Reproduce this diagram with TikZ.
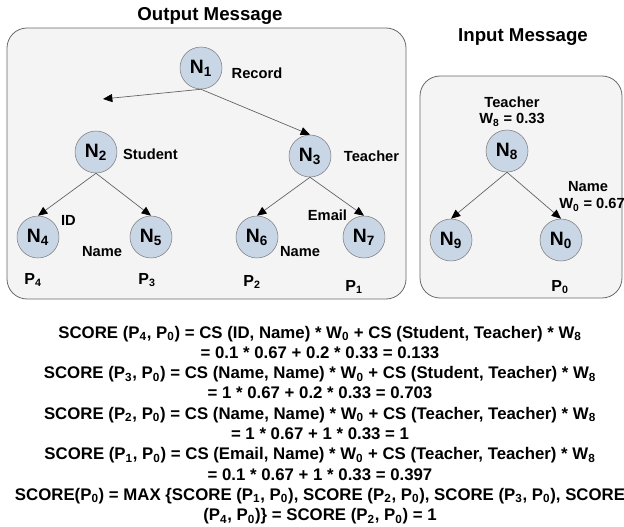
\documentclass[tikz,border=0pt]{standalone}
\usepackage{fontspec}
\setmainfont{Liberation Sans}
\usetikzlibrary{arrows.meta}

\definecolor{nodefill}{RGB}{201,214,230}
\definecolor{nodeline}{RGB}{125,125,125}
\definecolor{boxfill}{RGB}{244,244,244}
\definecolor{boxline}{RGB}{105,105,105}
\definecolor{edgeline}{RGB}{95,95,95}

\tikzset{
  tnode/.style={circle, draw=nodeline, fill=nodefill, minimum size=31.5pt, inner sep=0pt, font=\fontsize{14.5}{16}\selectfont\bfseries},
  msgbox/.style={draw=boxline, fill=boxfill, rounded corners=15pt, line width=0.6pt},
  edge/.style={draw=edgeline, line width=0.5pt, -{Triangle[length=7pt,width=6pt,color=black]}},
  lbl/.style={inner sep=0pt, font=\fontsize{11}{12}\selectfont\bfseries},
  plbl/.style={inner sep=0pt, font=\fontsize{12}{14}\selectfont\bfseries},
  ttl/.style={inner sep=0pt, font=\fontsize{14}{16}\selectfont\bfseries},
}

\begin{document}
\begin{tikzpicture}[x=0.75pt,y=0.75pt,yscale=-1,xscale=1]
\useasboundingbox (0,0) rectangle (624,527);

%Shape: Rounded Rect (output message)
\draw [msgbox] (7,28) rectangle (406,299);
%Shape: Rounded Rect (input message)
\draw [msgbox] (420,76) rectangle (622,298);

% Text Node
\node [ttl] (outtitle) at (210,16) {Output Message};
% Text Node
\node [ttl] (intitle) at (523,37) {Input Message};

% output tree
\node [tnode] (n1) at (201,68) {N\textsubscript{1}};
\node [tnode] (n2) at (96,152) {N\textsubscript{2}};
\node [tnode] (n3) at (310,156) {N\textsubscript{3}};
\node [tnode] (n4) at (38,237) {N\textsubscript{4}};
\node [tnode] (n5) at (151,237) {N\textsubscript{5}};
\node [tnode] (n6) at (257,237) {N\textsubscript{6}};
\node [tnode] (n7) at (364,237) {N\textsubscript{7}};
\coordinate (n2tip) at (103,99);

\draw [edge] (n1.south) -- (n2tip);
\draw [edge] (n1.south) -- (n3.north);
\draw [edge] (n2.south) -- (n4.north);
\draw [edge] (n2.south) -- (n5.north);
\draw [edge] (n3.south) -- (n6.north);
\draw [edge] (n3.south) -- (n7.north);

% Text Node
\node [lbl] (rec) at (257,73) {Record};
\node [lbl] (stu) at (150.5,154) {Student};
\node [lbl] (tea) at (371.5,156) {Teacher};
\node [lbl] (id) at (68.5,220) {ID};
\node [lbl] (nameA) at (102,252) {Name};
\node [lbl] (nameB) at (300,252) {Name};
\node [lbl] (email) at (327.5,215) {Email};
\node [plbl] (p4) at (33,280) {P\textsubscript{4}};
\node [plbl] (p3) at (147,280) {P\textsubscript{3}};
\node [plbl] (p2) at (252,282) {P\textsubscript{2}};
\node [plbl] (p1) at (354,287) {P\textsubscript{1}};

% input tree
\node [tnode] (n8) at (507,151) {N\textsubscript{8}};
\node [tnode] (n9) at (451,240) {N\textsubscript{9}};
\node [tnode] (n0) at (561,240) {N\textsubscript{0}};

\draw [edge] (n8.south) -- (n9.north);
\draw [edge] (n8.south) -- (n0.north);

% Text Node
\node [lbl] (teaB) at (512,102) {Teacher};
\node [lbl] (w8) at (512,120) {W\textsubscript{8} = 0.33};
\node [lbl] (nameC) at (588,187) {Name};
\node [lbl] (w0) at (592,205) {W\textsubscript{0} = 0.67};
\node [plbl] (p0) at (560,287) {P\textsubscript{0}};

% Text Node (score equations)
\node [inner sep=0pt, align=center, font=\fontsize{12.6}{15.2}\selectfont\bfseries] (score) at (320,425) {%
SCORE (P\textsubscript{4}, P\textsubscript{0}) = CS (ID, Name) * W\textsubscript{0} + CS (Student, Teacher) * W\textsubscript{8}\\
= 0.1 * 0.67 + 0.2 * 0.33 = 0.133\\
SCORE (P\textsubscript{3}, P\textsubscript{0}) = CS (Name, Name) * W\textsubscript{0} + CS (Student, Teacher) * W\textsubscript{8}\\
= 1 * 0.67 + 0.2 * 0.33 = 0.703\\
SCORE (P\textsubscript{2}, P\textsubscript{0}) = CS (Name, Name) * W\textsubscript{0} + CS (Teacher, Teacher) * W\textsubscript{8}\\
= 1 * 0.67 + 1 * 0.33 = 1\\
SCORE (P\textsubscript{1}, P\textsubscript{0}) = CS (Email, Name) * W\textsubscript{0} + CS (Teacher, Teacher) * W\textsubscript{8}\\
= 0.1 * 0.67 + 1 * 0.33 = 0.397\\
SCORE(P\textsubscript{0}) = MAX \{SCORE (P\textsubscript{1}, P\textsubscript{0}), SCORE (P\textsubscript{2}, P\textsubscript{0}), SCORE (P\textsubscript{3}, P\textsubscript{0}), SCORE\\
(P\textsubscript{4}, P\textsubscript{0})\} = SCORE (P\textsubscript{2}, P\textsubscript{0}) = 1};

\end{tikzpicture}
\end{document}
